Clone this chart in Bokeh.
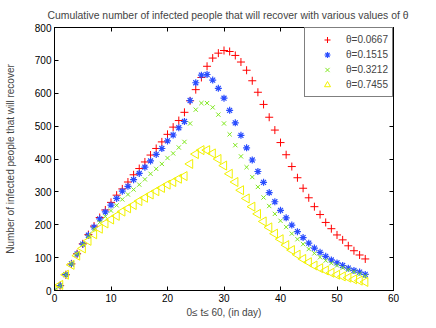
import numpy as np
from bokeh.plotting import figure
from bokeh.models import Range1d, LinearAxis, Legend, LegendItem, FixedTicker
from bokeh.embed import file_html
from bokeh.resources import INLINE

days = list(range(56))

# theta = 0.0667
red = [0, 15, 48, 81, 112, 142, 170, 196, 222, 245,
       268, 290, 309, 330, 352, 371, 391, 412, 432, 452,
       475, 497, 517, 542, 577, 611, 648, 682, 707, 722,
       730, 727, 715, 695, 670, 638, 603, 566, 527, 488,
       450, 413, 377, 343, 311, 282, 255, 231, 207, 188,
       169, 154, 136, 121, 108, 96]
# theta = 0.1515
blue = [0, 15, 48, 81, 111, 141, 168, 193, 218, 239,
        260, 280, 302, 317, 337, 356, 375, 394, 414, 432,
        455, 473, 495, 514, 578, 632, 655, 657, 640, 615,
        585, 548, 510, 472, 434, 397, 362, 329, 298, 270,
        244, 221, 199, 179, 161, 144, 129, 116, 104, 93,
        84, 76, 68, 61, 56, 49]
# theta = 0.3212
green = [0, 15, 48, 80, 110, 140, 163, 186, 207, 225,
         243, 259, 277, 292, 307, 322, 338, 355, 370, 385,
         403, 417, 435, 452, 508, 550, 570, 570, 557, 535,
         508, 475, 442, 408, 375, 345, 315, 283, 257, 233,
         212, 193, 173, 156, 141, 126, 113, 101, 91, 83,
         76, 69, 63, 57, 50, 44]
# theta = 0.7455
yellow = [0, 17, 48, 78, 106, 128, 151, 171, 188, 204,
          216, 227, 240, 250, 260, 272, 282, 292, 302, 312,
          322, 330, 340, 348, 385, 415, 427, 427, 417, 400,
          380, 355, 330, 305, 280, 255, 233, 210, 192, 173,
          156, 138, 123, 109, 96, 86, 76, 68, 61, 54,
          48, 43, 39, 34, 30, 26]

labels = ["θ=0.0667", "θ=0.1515", "θ=0.3212", "θ=0.7455"]
x_ticks = [0, 10, 20, 30, 40, 50, 60]
y_ticks = [0, 100, 200, 300, 400, 500, 600, 700, 800]

FONT = "Liberation Sans"

p = figure(width=426, height=320, output_backend="svg", toolbar_location=None,
           x_range=Range1d(0, 60), y_range=Range1d(0, 800),
           min_border_left=54, min_border_right=33, min_border_top=24,
           min_border_bottom=28,
           title="Cumulative number of infected people that will recover with various values of θ")
p.title.text_font = FONT
p.title.text_font_size = "10.4px"
p.title.text_font_style = "normal"
p.title.align = "left"
p.title.standoff = 14
p.title.offset = -7

p.xgrid.visible = False
p.ygrid.visible = False
p.outline_line_color = "black"
p.background_fill_color = "white"
p.border_fill_color = "white"

def style_axis(ax, ticks, show_labels=True):
    ax.ticker = FixedTicker(ticks=ticks)
    ax.major_tick_in = 4
    ax.major_tick_out = 0
    ax.minor_tick_line_color = None
    ax.axis_line_color = "black"
    ax.major_tick_line_color = "black"
    ax.major_label_text_font = FONT
    ax.major_label_text_font_size = "10px"
    ax.major_label_text_color = "black"
    ax.axis_label_text_font = FONT
    ax.axis_label_text_font_size = "10px"
    ax.axis_label_text_font_style = "normal"
    if not show_labels:
        ax.major_label_text_font_size = "0px"
        ax.major_label_text_color = None
        ax.major_label_standoff = 0

style_axis(p.xaxis[0], x_ticks)
style_axis(p.yaxis[0], y_ticks)
p.xaxis[0].axis_label = "0≤ t≤ 60, (in day)"
p.yaxis[0].axis_label = "Number of infected people that will recover"
p.xaxis[0].major_label_standoff = 3
p.yaxis[0].major_label_standoff = 3
p.xaxis[0].axis_label_standoff = 2
p.yaxis[0].axis_label_standoff = 16

top_ax = LinearAxis()
right_ax = LinearAxis()
style_axis(top_ax, x_ticks, show_labels=False)
style_axis(right_ax, y_ticks, show_labels=False)
p.add_layout(top_ax, "above")
p.add_layout(right_ax, "right")

r1 = p.scatter(days, red, marker="cross", size=8, line_color="#ff0000", line_width=1)
r2 = p.scatter(days, blue, marker="asterisk", size=7, line_color="#2a4dff", line_width=1.2)
r3 = p.scatter(days, green, marker="x", size=6, line_color="#7fe81e", line_width=1)
r4 = p.scatter(days, yellow, marker="triangle", size=9, angle=np.pi / 2,
               line_color="#f2f200", fill_color=None, line_width=1)

legend = Legend(items=[LegendItem(label=labels[0], renderers=[r1]),
                       LegendItem(label=labels[1], renderers=[r2]),
                       LegendItem(label=labels[2], renderers=[r3]),
                       LegendItem(label=labels[3], renderers=[r4])],
                location="top_right", margin=0, padding=4, spacing=0,
                glyph_width=36, glyph_height=15, label_height=15,
                label_standoff=1, border_line_color="black",
                label_text_font=FONT, label_text_font_size="10px",
                background_fill_alpha=1)
p.add_layout(legend)

open("out.html", "w").write(file_html(p, INLINE))
